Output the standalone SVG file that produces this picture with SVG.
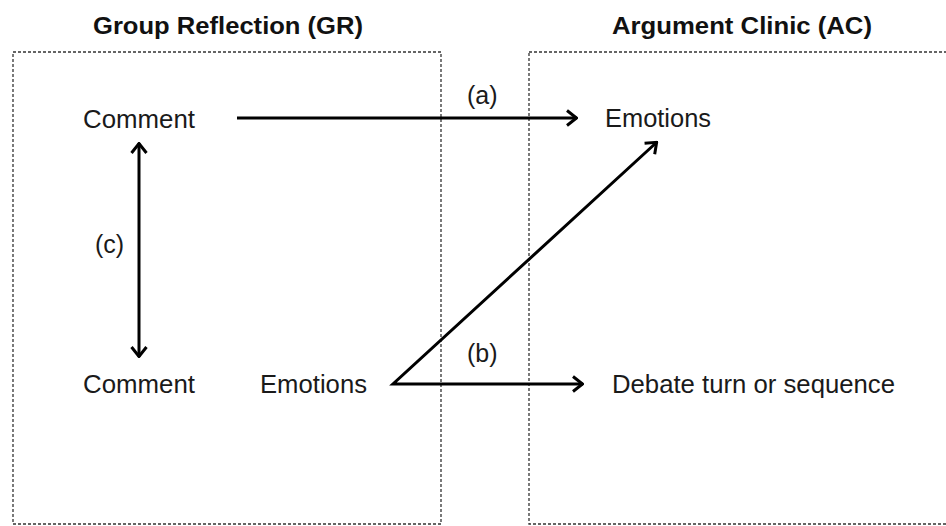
<svg xmlns="http://www.w3.org/2000/svg" width="946" height="526" viewBox="0 0 946 526">
<style>
.t{font-family:"Liberation Sans",Arial,sans-serif;font-size:25px;fill:#1a1a1a}
.h{font-family:"Liberation Sans",Arial,sans-serif;font-size:24px;font-weight:bold;fill:#111}
.box{fill:none;stroke:#333;stroke-width:1.3;stroke-dasharray:3 2}
.c{fill:none;stroke:#000;stroke-width:3}
</style>
<defs>
<marker id="ah" viewBox="0 0 12 18" refX="11" refY="9" markerWidth="12" markerHeight="18" markerUnits="userSpaceOnUse" orient="auto-start-reverse">
<path d="M1,1.5 L10.5,9 L1,16.5" fill="none" stroke="#000" stroke-width="3"/>
</marker>
</defs>
<g id="gr">
<rect class="box" x="13" y="52" width="428" height="472"/>
<text class="h" x="93" y="34" textLength="270" lengthAdjust="spacingAndGlyphs">Group Reflection (GR)</text>
</g>
<g id="ac">
<rect class="box" x="529" y="52" width="430" height="472"/>
<text class="h" x="612" y="34" textLength="260" lengthAdjust="spacingAndGlyphs">Argument Clinic (AC)</text>
</g>
<g id="gr-comment-top"><text class="t" x="83" y="128" textLength="112" lengthAdjust="spacingAndGlyphs">Comment</text></g>
<g id="gr-comment-bottom"><text class="t" x="83" y="393" textLength="112" lengthAdjust="spacingAndGlyphs">Comment</text></g>
<g id="gr-emotions"><text class="t" x="260" y="393" textLength="107" lengthAdjust="spacingAndGlyphs">Emotions</text></g>
<g id="ac-emotions"><text class="t" x="605" y="127" textLength="106" lengthAdjust="spacingAndGlyphs">Emotions</text></g>
<g id="ac-debate"><text class="t" x="612" y="393" textLength="283" lengthAdjust="spacingAndGlyphs">Debate turn or sequence</text></g>
<g id="connectors">
<line class="c" x1="237" y1="118" x2="577" y2="118" marker-end="url(#ah)"/>
<line class="c" x1="139" y1="143" x2="139" y2="357" marker-start="url(#ah)" marker-end="url(#ah)"/>
<polyline class="c" points="657,142 393,384 583,384" marker-start="url(#ah)" marker-end="url(#ah)" stroke-linejoin="miter"/>
<text class="t" x="467" y="104">(a)</text>
<text class="t" x="467" y="362">(b)</text>
<text class="t" x="95" y="253">(c)</text>
</g>
</svg>
